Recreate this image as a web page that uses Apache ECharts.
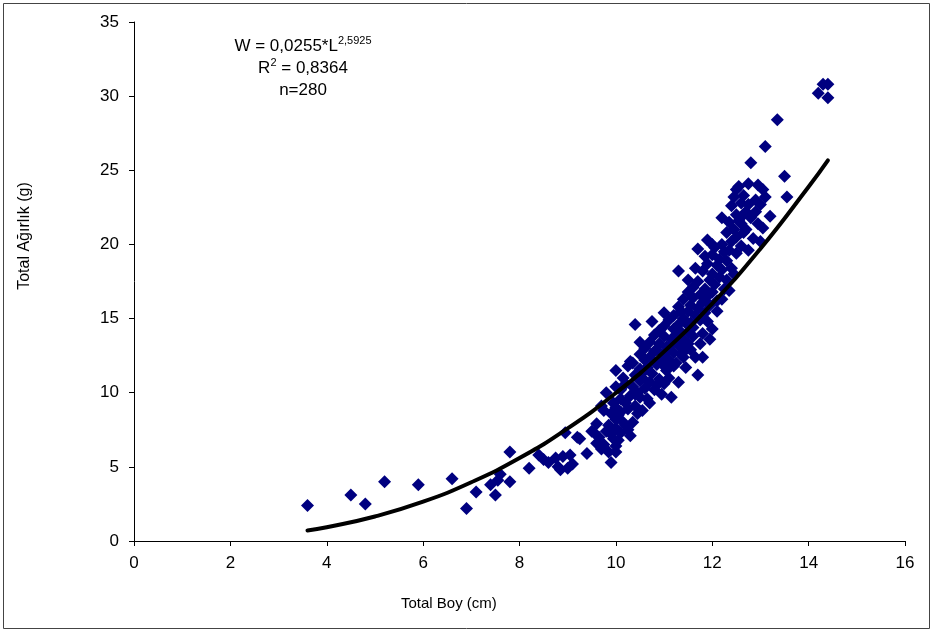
<!DOCTYPE html>
<html>
<head>
<meta charset="utf-8">
<script src="https://cdn.jsdelivr.net/npm/echarts@6/dist/echarts.min.js"></script>
<style>
  html, body { margin: 0; padding: 0; background: #fff; }
  #chart { width: 933px; height: 631px; }
</style>
</head>
<body>
<div id="chart"></div>
<script>
const fishSparse = [
  [3.6, 2.4], [4.5, 3.1], [4.8, 2.5], [5.2, 4.0], [5.9, 3.8], [6.6, 4.2], [6.9, 2.2],
  [7.1, 3.3], [7.4, 3.8], [7.5, 3.1], [7.55, 4.1], [7.6, 4.5], [7.8, 4.0], [7.8, 6.0],
  [8.2, 4.9], [8.4, 5.8], [8.5, 5.5], [8.6, 5.3], [8.75, 5.6], [8.8, 5.0], [8.85, 4.8],
  [8.9, 5.7], [8.95, 7.3], [9.0, 4.9], [9.05, 5.8], [9.1, 5.2], [9.2, 7.0], [9.25, 6.9],
  [9.4, 5.9]
];
const fishBand1 = [
  [9.5, 7.4], [9.55, 7.3], [9.6, 6.6], [9.65, 7.0], [9.7, 6.2], [9.75, 6.5], [9.75, 8.8],
  [9.8, 7.4], [9.8, 10.0], [9.85, 6.0], [9.85, 7.8], [9.9, 5.3], [9.9, 8.6], [9.9, 7.2],
  [9.95, 6.9], [9.95, 9.3], [10.0, 7.6], [10.0, 8.2], [10.0, 9.0], [10.0, 10.4], [10.0, 11.5],
  [10.0, 6.4], [9.6, 7.9], [9.7, 9.1], [10.0, 6.0]
];
const fishBand2 = [
  [10.05, 6.8], [10.05, 8.5], [10.1, 9.6], [10.1, 7.3], [10.1, 10.2], [10.15, 8.0], [10.15, 11.0],
  [10.2, 9.3], [10.2, 7.8], [10.2, 10.6], [10.25, 8.9], [10.25, 11.8], [10.3, 9.8], [10.3, 12.1],
  [10.3, 7.1], [10.35, 8.0], [10.35, 10.4], [10.35, 12.0], [10.4, 9.1], [10.4, 14.6], [10.4, 11.2],
  [10.45, 10.0], [10.45, 8.6], [10.5, 12.6], [10.5, 9.7], [10.5, 11.6], [10.5, 13.4], [10.5, 10.8],
  [10.1, 8.7], [10.25, 7.5], [10.4, 9.9]
];
const fishBand3 = [
  [10.55, 8.8], [10.55, 11.0], [10.6, 12.2], [10.6, 10.3], [10.6, 13.0], [10.65, 9.6], [10.65, 11.7],
  [10.7, 13.4], [10.7, 10.7], [10.7, 12.4], [10.75, 11.3], [10.75, 14.8], [10.8, 10.2], [10.8, 12.8],
  [10.8, 13.9], [10.85, 11.9], [10.85, 12.9], [10.9, 10.9], [10.9, 13.3], [10.9, 14.2], [10.95, 12.3],
  [10.95, 9.9], [11.0, 15.4], [11.0, 13.8], [11.0, 11.8], [11.0, 12.6], [11.0, 14.5],
  [10.6, 11.5], [10.7, 9.3], [10.85, 10.5], [11.0, 10.6]
];
const fishBand4 = [
  [11.05, 11.5], [11.05, 13.1], [11.1, 13.1], [11.1, 14.9], [11.1, 12.2], [11.15, 9.7], [11.15, 13.6],
  [11.2, 14.3], [11.2, 12.7], [11.2, 15.2], [11.25, 12.0], [11.25, 13.9], [11.3, 10.7], [11.3, 14.6],
  [11.3, 15.8], [11.3, 13.2], [11.35, 12.6], [11.35, 14.1], [11.4, 12.4], [11.4, 15.0], [11.4, 16.3],
  [11.4, 13.6], [11.45, 14.7], [11.45, 11.7], [11.5, 15.5], [11.5, 13.3], [11.5, 14.1], [11.5, 16.8],
  [11.3, 18.2], [11.1, 11.0], [11.2, 11.8], [11.35, 15.5], [11.45, 12.9], [11.5, 17.6]
];
const fishBand5 = [
  [11.55, 12.9], [11.55, 15.9], [11.6, 14.4], [11.6, 16.4], [11.6, 17.1], [11.6, 13.8], [11.65, 15.2],
  [11.65, 12.4], [11.7, 11.2], [11.7, 15.7], [11.7, 17.5], [11.7, 19.7], [11.75, 14.9], [11.75, 16.6],
  [11.8, 12.4], [11.8, 16.1], [11.8, 18.2], [11.8, 14.0], [11.85, 17.0], [11.85, 15.4], [11.9, 16.5],
  [11.9, 18.7], [11.9, 20.3], [11.9, 14.8], [11.95, 17.6], [11.95, 15.9], [12.0, 16.8], [12.0, 19.3],
  [12.0, 18.0], [12.0, 14.3], [12.0, 20.0], [11.55, 14.7], [11.65, 18.4], [11.75, 13.3], [11.85, 19.2],
  [11.95, 13.6]
];
const fishBand6 = [
  [12.05, 17.3], [12.05, 19.8], [12.1, 18.6], [12.1, 16.2], [12.15, 19.0], [12.15, 17.8], [12.2, 20.0],
  [12.2, 18.3], [12.2, 16.3], [12.25, 19.5], [12.3, 17.6], [12.3, 20.8], [12.3, 18.9], [12.35, 21.5],
  [12.35, 19.6], [12.4, 22.6], [12.4, 18.4], [12.4, 20.2], [12.45, 23.2], [12.45, 21.0], [12.5, 19.4],
  [12.5, 22.0], [12.5, 23.7], [12.5, 20.5], [12.1, 15.5], [12.25, 17.0], [12.35, 16.9], [12.45, 18.0],
  [12.2, 21.8]
];
const fishBand7 = [
  [12.55, 21.6], [12.6, 22.8], [12.6, 21.4], [12.6, 19.9], [12.65, 23.3], [12.65, 20.8], [12.7, 22.2],
  [12.7, 21.0], [12.75, 22.7], [12.75, 19.6], [12.8, 25.5], [12.8, 21.8], [12.85, 20.4], [12.9, 22.2],
  [12.9, 23.0], [12.95, 21.4], [13.0, 20.2], [13.0, 22.7], [13.05, 23.7], [13.1, 26.6], [13.1, 23.2],
  [13.2, 21.9], [12.55, 23.9], [12.65, 22.0], [12.75, 24.1], [12.95, 24.0], [13.05, 21.1]
];
const fishLarge = [
  [13.35, 28.4], [13.5, 24.6], [13.55, 23.2], [14.2, 30.2], [14.3, 30.8], [14.4, 30.8], [14.4, 29.9]
];

// Power trend line as drawn (W = 0,0255*L^2,5925), read at these lengths
const trendLength = [3.6, 4, 5, 6, 7, 8, 9, 10, 11, 12, 13, 14, 14.4];
const trendWeight = [0.71, 0.93, 1.65, 2.65, 3.96, 5.59, 7.59, 9.98, 12.77, 16.01, 19.71, 23.89, 25.67];

const xTicks = [0, 2, 4, 6, 8, 10, 12, 14, 16];
const yTicks = [0, 5, 10, 15, 20, 25, 30, 35];

const fishPoints = [].concat(fishSparse, fishBand1, fishBand2, fishBand3, fishBand4,
  fishBand5, fishBand6, fishBand7, fishLarge);

const font = '"Liberation Sans", Arial, sans-serif';
const chart = echarts.init(document.getElementById('chart'));

const option = {
  animation: false,
  backgroundColor: '#fff',
  grid: { left: 134, right: 28, top: 22, bottom: 90, containLabel: false },
  xAxis: {
    type: 'value',
    min: xTicks[0],
    max: xTicks[xTicks.length - 1],
    interval: 2,
    axisLine: { lineStyle: { color: '#000', width: 1 } },
    axisTick: { show: true, length: 5, lineStyle: { color: '#000' } },
    axisLabel: { color: '#000', fontSize: 17, fontFamily: font, margin: 14 },
    splitLine: { show: false }
  },
  yAxis: {
    type: 'value',
    min: yTicks[0],
    max: yTicks[yTicks.length - 1],
    interval: 5,
    axisLine: { show: true, lineStyle: { color: '#000', width: 1 } },
    axisTick: { show: true, length: 5, lineStyle: { color: '#000' } },
    axisLabel: { color: '#000', fontSize: 17, fontFamily: font, margin: 15 },
    splitLine: { show: false }
  },
  series: [
    {
      name: 'fish',
      type: 'scatter',
      symbol: 'diamond',
      symbolSize: 13,
      itemStyle: { color: '#000080', opacity: 1 },
      data: fishPoints,
      z: 2
    },
    {
      name: 'trend',
      type: 'line',
      smooth: true,
      symbol: 'none',
      lineStyle: { color: '#000', width: 4, cap: 'round' },
      data: trendLength.map((l, i) => [l, trendWeight[i]]),
      z: 3
    }
  ],
  graphic: [
    {
      type: 'rect',
      shape: { x: 3.5, y: 3.5, width: 926, height: 625 },
      style: { fill: 'none', stroke: '#444', lineWidth: 1 },
      silent: true
    },
    {
      type: 'text',
      left: 401, top: 596,
      style: { text: 'Total Boy (cm)', font: '15px ' + font, fill: '#000' }
    },
    {
      type: 'text',
      x: 25, y: 236,
      rotation: Math.PI / 2,
      style: {
        text: 'Total Ağırlık (g)', font: '16px ' + font, fill: '#000',
        align: 'center', verticalAlign: 'middle'
      }
    },
    {
      type: 'text',
      x: 303, y: 35,
      style: {
        text: '{n|W = 0,0255*L}{s|2,5925}\n{n|R}{s|2}{n| = 0,8364}\n{n|n=280}',
        align: 'center',
        fill: '#000',
        lineHeight: 22,
        rich: {
          n: { font: '17px ' + font, fill: '#000', lineHeight: 22 },
          s: { font: '11px ' + font, fill: '#000', verticalAlign: 'top', lineHeight: 22, padding: [0, 0, 8, 0] }
        }
      }
    }
  ]
};

chart.setOption(option);
</script>
</body>
</html>
